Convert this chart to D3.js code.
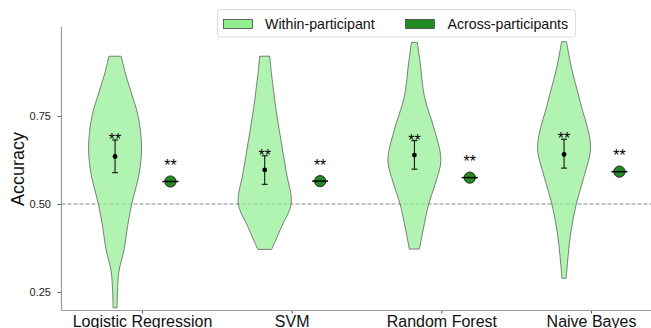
<!DOCTYPE html>
<html>
<head>
<meta charset="utf-8">
<script src="https://cdn.jsdelivr.net/npm/d3@7"></script>
<style>
  html, body { margin: 0; padding: 0; background: #fff; }
  svg { display: block; font-family: "Liberation Sans", Arial, sans-serif; }
</style>
</head>
<body>
<svg id="chart" width="651" height="328"></svg>
<script>
// Classifier accuracy: within-participant distributions vs across-participant scores
const categories = ["Logistic Regression", "SVM", "Random Forest", "Naive Bayes"];

// Within-participant: mean and 95% interval
const withinMean = [0.635, 0.597, 0.639, 0.641];
const withinLow  = [0.589, 0.556, 0.599, 0.602];
const withinHigh = [0.682, 0.637, 0.680, 0.684];
const withinSig  = ["**", "**", "**", "**"];

// Across-participants: single score with narrow interval
const acrossMean = [0.564, 0.565, 0.575, 0.592];
const acrossLow  = [0.562, 0.563, 0.573, 0.590];
const acrossHigh = [0.566, 0.567, 0.577, 0.594];
const acrossSig  = ["**", "**", "**", "**"];

// Kernel density profiles of the within-participant accuracies (relative density)
const lrLevels  = [0.205, 0.256, 0.31, 0.37, 0.436, 0.50, 0.587, 0.662, 0.75, 0.824, 0.874, 0.92];
const lrDensity = [0.075, 0.094, 0.15, 0.34, 0.47, 0.63, 0.91, 1.0, 0.87, 0.58, 0.38, 0.23];
const svmLevels  = [0.371, 0.436, 0.502, 0.588, 0.682, 0.777, 0.824, 0.873, 0.92];
const svmDensity = [0.26, 0.64, 1.0, 0.82, 0.61, 0.41, 0.33, 0.25, 0.19];
const rfLevels  = [0.372, 0.426, 0.50, 0.56, 0.625, 0.71, 0.805, 0.90, 0.959];
const rfDensity = [0.19, 0.33, 0.54, 0.80, 1.0, 0.76, 0.38, 0.22, 0.11];
const nbLevels  = [0.289, 0.35, 0.417, 0.50, 0.58, 0.663, 0.79, 0.89, 0.961];
const nbDensity = [0.08, 0.15, 0.25, 0.46, 0.76, 1.0, 0.61, 0.27, 0.095];

const yTicks = [0.25, 0.50, 0.75];
const legendLabels = ["Within-participant", "Across-participants"];

const profiles = [
  [lrLevels, lrDensity],
  [svmLevels, svmDensity],
  [rfLevels, rfDensity],
  [nbLevels, nbDensity]
];

const W = 651, H = 328;
const svg = d3.select("#chart");

const axisLeftX = 61.5, axisBottomY = 310.5, axisTopY = 27;
const y = d3.scaleLinear().domain([0.196, 1.003]).range([311, 27]);
const x = d3.scalePoint().domain(categories).range([142, 591]);
const step = x.step();
const violinOffset = -0.18 * step;
const acrossOffset = 0.19 * step;
const halfWidth = 26.5;

const lightGreen = "#90ee90";
const darkGreen = "#228b22";

// chance level
svg.append("line")
  .attr("x1", axisLeftX).attr("x2", W)
  .attr("y1", y(0.5)).attr("y2", y(0.5))
  .attr("stroke", "#8a8a8a").attr("stroke-width", 1)
  .attr("stroke-dasharray", "4,2");

// violins
categories.forEach((c, i) => {
  const cx = x(c) + violinOffset;
  const [levels, dens] = profiles[i];
  const pts = levels.map((v, k) => ({ v, d: dens[k] }));
  const area = d3.area()
    .y(p => y(p.v))
    .x0(p => cx - p.d * halfWidth)
    .x1(p => cx + p.d * halfWidth)
    .curve(d3.curveCatmullRom.alpha(0.5));
  svg.append("path")
    .datum(pts)
    .attr("d", area)
    .attr("fill", lightGreen).attr("fill-opacity", 0.7)
    .attr("stroke", "#5f5f5f").attr("stroke-width", 0.8);
});

// within-participant mean + interval
categories.forEach((c, i) => {
  const cx = x(c) + violinOffset;
  const g = svg.append("g").attr("stroke", "#000").attr("stroke-width", 1);
  g.append("line").attr("x1", cx).attr("x2", cx)
    .attr("y1", y(withinLow[i])).attr("y2", y(withinHigh[i]));
  [withinLow[i], withinHigh[i]].forEach(v => {
    g.append("line").attr("x1", cx - 3).attr("x2", cx + 3)
      .attr("y1", y(v)).attr("y2", y(v));
  });
  svg.append("circle").attr("cx", cx).attr("cy", y(withinMean[i])).attr("r", 2.4).attr("fill", "#000");
  svg.append("text")
    .attr("x", cx).attr("y", y(withinHigh[i]) + 5)
    .attr("text-anchor", "middle").attr("font-size", 16).attr("fill", "#000")
    .text(withinSig[i]);
});

// across-participant score
categories.forEach((c, i) => {
  const cx = x(c) + acrossOffset;
  svg.append("circle").attr("cx", cx).attr("cy", y(acrossMean[i])).attr("r", 5.6)
    .attr("fill", darkGreen).attr("stroke", "#000").attr("stroke-width", 0.8);
  svg.append("line").attr("x1", cx - 8).attr("x2", cx + 8)
    .attr("y1", y(acrossMean[i])).attr("y2", y(acrossMean[i]))
    .attr("stroke", "#000").attr("stroke-width", 1.5);
  svg.append("line").attr("x1", cx).attr("x2", cx)
    .attr("y1", y(acrossLow[i])).attr("y2", y(acrossHigh[i]))
    .attr("stroke", "#000").attr("stroke-width", 1);
  svg.append("text")
    .attr("x", cx).attr("y", y(acrossMean[i]) - 10.5)
    .attr("text-anchor", "middle").attr("font-size", 16).attr("fill", "#000")
    .text(acrossSig[i]);
});

// axes
const yAxis = d3.axisLeft(y).tickValues(yTicks).tickFormat(d3.format(".2f")).tickSize(4).tickPadding(6.5);
const gy = svg.append("g").attr("transform", `translate(${axisLeftX},0)`).call(yAxis);
gy.select(".domain").remove();
gy.selectAll(".tick line").attr("stroke", "#666");
gy.selectAll(".tick text").attr("font-size", 11).attr("fill", "#222")
  .attr("font-family", "'Liberation Sans', Arial, sans-serif");

const xAxis = d3.axisBottom(x).tickSize(3).tickPadding(2);
const gx = svg.append("g").attr("transform", `translate(0,${axisBottomY})`).call(xAxis);
gx.select(".domain").remove();
gx.selectAll(".tick line").attr("stroke", "#555");
gx.selectAll(".tick text").attr("font-size", 16).attr("fill", "#111")
  .attr("dy", null).attr("y", 16)
  .attr("font-family", "'Liberation Sans', Arial, sans-serif");

svg.append("line").attr("x1", axisLeftX).attr("x2", axisLeftX)
  .attr("y1", axisTopY).attr("y2", axisBottomY)
  .attr("stroke", "#9a9a9a").attr("stroke-width", 1.2);
svg.append("line").attr("x1", axisLeftX).attr("x2", W)
  .attr("y1", axisBottomY).attr("y2", axisBottomY)
  .attr("stroke", "#9a9a9a").attr("stroke-width", 1.2);

svg.append("text")
  .attr("transform", `translate(24,169) rotate(-90)`)
  .attr("text-anchor", "middle").attr("font-size", 18).attr("fill", "#111")
  .text("Accuracy");

// legend
const lg = svg.append("g");
lg.append("rect").attr("x", 217.5).attr("y", 9.5).attr("width", 358).attr("height", 27.5)
  .attr("rx", 3).attr("fill", "#fff").attr("fill-opacity", 0.8)
  .attr("stroke", "#dcdcdc").attr("stroke-width", 1);
const legendItems = [
  { label: legendLabels[0], color: lightGreen, px: 223.5, tx: 265 },
  { label: legendLabels[1], color: darkGreen, px: 405.5, tx: 447.5 }
];
legendItems.forEach(it => {
  lg.append("rect").attr("x", it.px).attr("y", 19.5).attr("width", 29).attr("height", 9)
    .attr("fill", it.color).attr("stroke", "#444").attr("stroke-width", 0.8);
  lg.append("text").attr("x", it.tx).attr("y", 28.5)
    .attr("font-size", 14.2).attr("fill", "#111").text(it.label);
});
</script>
</body>
</html>
